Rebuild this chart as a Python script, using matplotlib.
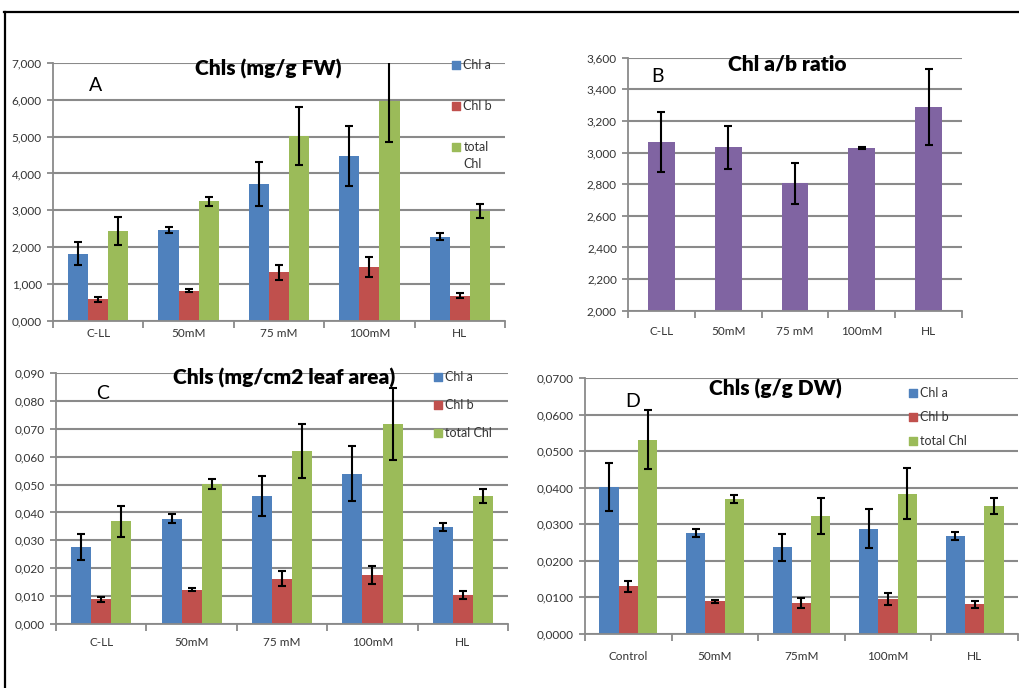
import matplotlib
matplotlib.use("Agg")
from matplotlib import pyplot as plt
from matplotlib.lines import Line2D
from matplotlib.ticker import FuncFormatter
import numpy as np

plt.rcParams['font.family'] = ['Lato', 'DejaVu Sans']

SERIES = ["Chl a", "Chl b", "total Chl"]
COLORS = ["#4F81BD", "#C0504D", "#9BBB59"]
RATIO_COLOR = "#8064A2"
GRID = "#8a8a8a"
TEXT = "#333333"

# A: chlorophylls per fresh weight
fw_groups = ["C-LL", "50mM", "75 mM", "100mM", "HL"]
fw_chl_a = [1.83, 2.47, 3.71, 4.48, 2.29]
fw_chl_a_err = [0.31, 0.08, 0.59, 0.81, 0.10]
fw_chl_b = [0.59, 0.82, 1.32, 1.47, 0.69]
fw_chl_b_err = [0.07, 0.04, 0.21, 0.27, 0.07]
fw_total = [2.44, 3.25, 5.02, 5.95, 2.98]
fw_total_err = [0.37, 0.12, 0.79, 1.09, 0.18]

# B: chl a/b ratio
ratio_groups = ["C-LL", "50mM", "75 mM", "100mM", "HL"]
ratio = [3.069, 3.033, 2.805, 3.027, 3.288]
ratio_err = [0.19, 0.136, 0.128, 0.006, 0.243]

# C: chlorophylls per leaf area
area_groups = ["C-LL", "50mM", "75 mM", "100mM", "HL"]
area_chl_a = [0.0276, 0.0378, 0.0459, 0.0539, 0.0349]
area_chl_a_err = [0.0046, 0.0016, 0.0073, 0.0098, 0.0015]
area_chl_b = [0.0088, 0.0123, 0.0163, 0.0176, 0.0104]
area_chl_b_err = [0.0010, 0.0005, 0.0026, 0.0031, 0.0014]
area_total = [0.0368, 0.0502, 0.0620, 0.0717, 0.0459]
area_total_err = [0.0056, 0.0018, 0.0096, 0.0130, 0.0026]

# D: chlorophylls per dry weight
dw_groups = ["Control", "50mM", "75mM", "100mM", "HL"]
dw_chl_a = [0.0402, 0.0277, 0.0237, 0.0288, 0.0268]
dw_chl_a_err = [0.0066, 0.0011, 0.0037, 0.0053, 0.0010]
dw_chl_b = [0.0130, 0.0089, 0.0084, 0.0095, 0.0081]
dw_chl_b_err = [0.0016, 0.0004, 0.0014, 0.0017, 0.0010]
dw_total = [0.0531, 0.0369, 0.0323, 0.0384, 0.0350]
dw_total_err = [0.0081, 0.0012, 0.0050, 0.0070, 0.0022]


def style_axes(ax, groups, ymin, ymax, step, decimals, label_pad):
    n = len(groups)
    ax.set_xlim(-0.5, n - 0.5)
    ax.set_ylim(ymin, ymax)
    ax.set_yticks(np.arange(ymin, ymax + step / 2, step))
    ax.yaxis.set_major_formatter(
        FuncFormatter(lambda v, p: f"{v:.{decimals}f}".replace(".", ",")))
    ax.set_xticks(np.arange(n))
    ax.set_xticklabels(groups)
    ax.set_xticks(np.arange(n + 1) - 0.5, minor=True)
    ax.tick_params(axis='x', which='major', length=0, pad=label_pad,
                   labelsize=8.5, labelcolor=TEXT)
    ax.tick_params(axis='x', which='minor', length=5, width=1.3, color=GRID)
    ax.tick_params(axis='y', length=4, width=1.3, color=GRID,
                   labelsize=8.5, labelcolor=TEXT, pad=4)
    ax.grid(axis='y', color=GRID, linewidth=1.5)
    ax.set_axisbelow(True)
    for s in ['top', 'right']:
        ax.spines[s].set_visible(False)
    for s in ['left', 'bottom']:
        ax.spines[s].set_color(GRID)
        ax.spines[s].set_linewidth(1.3)


def grouped_bars(ax, groups, values, errors):
    x = np.arange(len(groups))
    width = 2 / 9
    for i, (vals, errs) in enumerate(zip(values, errors)):
        pos = x + (i - 1) * width
        ax.bar(pos, vals, width, color=COLORS[i], zorder=2)
        ax.errorbar(pos, vals, yerr=errs, fmt='none', ecolor='black',
                    elinewidth=1.5, capsize=3, capthick=1.5, zorder=3)


def legend_at(ax, x, ys, labels):
    for y, label, color in zip(ys, labels, COLORS):
        ax.scatter([x], [y], marker='s', s=30, color=color,
                   transform=ax.transAxes, clip_on=False, zorder=4)
        ax.text(x + 0.016, y + 0.024, label, transform=ax.transAxes,
                va='top', ha='left', fontsize=9, color=TEXT, linespacing=1.5)


def title(ax, x, y, s):
    ax.text(x, y, s, transform=ax.transAxes, ha='center', va='center',
            fontsize=15, fontweight='heavy')


def letter(ax, x, y, s):
    ax.text(x, y, s, transform=ax.transAxes, ha='center', va='center',
            fontsize=14)


def main():
    fig = plt.figure(figsize=(10.19, 6.88), dpi=100)

    # A
    ax = fig.add_axes([0.052, 0.5334, 0.4436, 0.3754])
    grouped_bars(ax, fw_groups, [fw_chl_a, fw_chl_b, fw_total],
                 [fw_chl_a_err, fw_chl_b_err, fw_total_err])
    style_axes(ax, fw_groups, 0, 7, 1, 3, 5)
    title(ax, 0.476, 0.975, "Chls (mg/g FW)")
    letter(ax, 0.095, 0.91, "A")
    legend_at(ax, 0.892, [0.991, 0.832, 0.673], ["Chl a", "Chl b", "total\nChl"])

    # B
    ax = fig.add_axes([0.6163, 0.5484, 0.3278, 0.3677])
    x = np.arange(len(ratio_groups))
    ax.bar(x, ratio, 0.4, color=RATIO_COLOR, zorder=2)
    ax.errorbar(x, ratio, yerr=ratio_err, fmt='none', ecolor='black',
                elinewidth=1.5, capsize=3, capthick=1.5, zorder=3)
    style_axes(ax, ratio_groups, 2.0, 3.6, 0.2, 3, 11)
    title(ax, 0.476, 0.975, "Chl a/b ratio")
    letter(ax, 0.087, 0.924, "B")

    # C
    ax = fig.add_axes([0.055, 0.0930, 0.4436, 0.3648])
    grouped_bars(ax, area_groups, [area_chl_a, area_chl_b, area_total],
                 [area_chl_a_err, area_chl_b_err, area_total_err])
    style_axes(ax, area_groups, 0, 0.09, 0.01, 3, 9)
    title(ax, 0.504, 0.98, "Chls (mg/cm2 leaf area)")
    letter(ax, 0.104, 0.92, "C")
    legend_at(ax, 0.845, [0.984, 0.873, 0.761], SERIES)

    # D
    ax = fig.add_axes([0.5741, 0.0785, 0.4249, 0.3721])
    grouped_bars(ax, dw_groups, [dw_chl_a, dw_chl_b, dw_total],
                 [dw_chl_a_err, dw_chl_b_err, dw_total_err])
    style_axes(ax, dw_groups, 0, 0.07, 0.01, 4, 12)
    title(ax, 0.439, 0.957, "Chls (g/g DW)")
    letter(ax, 0.109, 0.91, "D")
    legend_at(ax, 0.757, [0.941, 0.848, 0.754], SERIES)

    # frame around the panels
    top = 1 - 12 / 688
    fig.add_artist(Line2D([4 / 1019, 1], [top, top], color='black', linewidth=1.6))
    fig.add_artist(Line2D([5 / 1019, 5 / 1019], [0, top], color='black', linewidth=1.6))

    fig.savefig("out.png", dpi=100)


if __name__ == '__main__':
    main()
